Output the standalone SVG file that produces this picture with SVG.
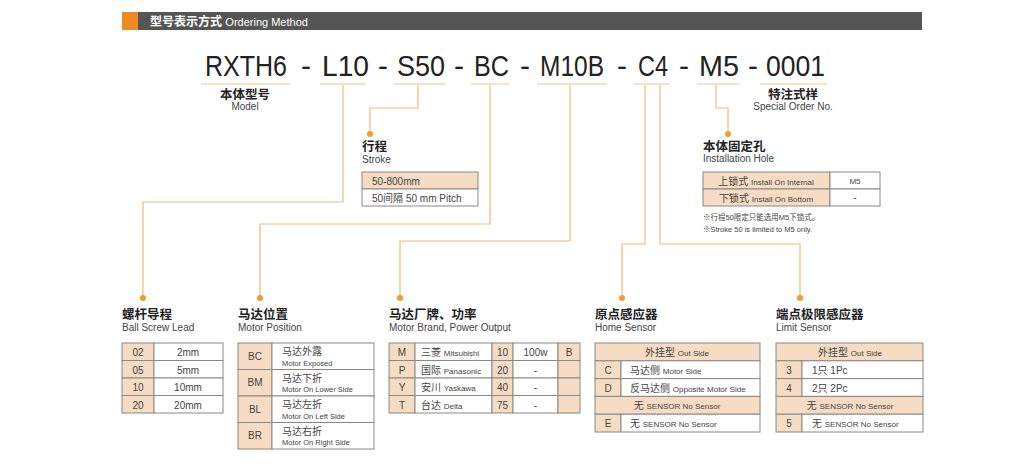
<svg xmlns="http://www.w3.org/2000/svg" width="1024" height="466" viewBox="0 0 1024 466">
<style>
text{font-family:"Liberation Sans","Noto Sans CJK SC",sans-serif;fill:#333}
.code{font-size:30px;fill:#222}
.dash{font-size:30px;fill:#222;text-anchor:middle}
.ul{stroke:#f2c48f;stroke-width:1}
.con{fill:none;stroke:#f2b978;stroke-width:1.2}
.dot{fill:#f39a35}
.t{font-size:12.5px;font-weight:bold;fill:#222}
.s{font-size:10px;fill:#444}
.tan{fill:#f6dcc2;stroke:#888;stroke-width:1}
.wh{fill:#fff;stroke:#888;stroke-width:1}
.c{font-size:10px;text-anchor:middle;fill:#444}
.l{font-size:10px;fill:#444}
.e{font-size:8px}
.n{font-size:7.5px;fill:#444}
</style>
<rect width="1024" height="466" fill="#fff"/>
<g id="header">
<rect x="122" y="12" width="16" height="18" fill="#f08a24"/>
<rect x="138" y="12" width="784" height="18" fill="#555"/>
<text x="150" y="25.5" style="font-size:12px;font-weight:bold;fill:#fff">型号表示方式 <tspan style="font-weight:normal;font-size:11px;fill:#fff">Ordering Method</tspan></text>
</g>
<g id="code">
<text class="code" x="205" y="76" textLength="82" lengthAdjust="spacingAndGlyphs">RXTH6</text>
<text class="dash" x="306" y="76">-</text>
<text class="code" x="322" y="76" textLength="47" lengthAdjust="spacingAndGlyphs">L10</text>
<text class="dash" x="383" y="76">-</text>
<text class="code" x="397" y="76" textLength="48" lengthAdjust="spacingAndGlyphs">S50</text>
<text class="dash" x="459" y="76">-</text>
<text class="code" x="474" y="76" textLength="35" lengthAdjust="spacingAndGlyphs">BC</text>
<text class="dash" x="525" y="76">-</text>
<text class="code" x="540" y="76" textLength="64" lengthAdjust="spacingAndGlyphs">M10B</text>
<text class="dash" x="622" y="76">-</text>
<text class="code" x="638" y="76" textLength="30" lengthAdjust="spacingAndGlyphs">C4</text>
<text class="dash" x="684" y="76">-</text>
<text class="code" x="699" y="76" textLength="40" lengthAdjust="spacingAndGlyphs">M5</text>
<text class="dash" x="753" y="76">-</text>
<text class="code" x="766" y="76" textLength="59" lengthAdjust="spacingAndGlyphs">0001</text>
<line class="ul" x1="201" y1="84" x2="290" y2="84"/>
<line class="ul" x1="320" y1="84" x2="366" y2="84"/>
<line class="ul" x1="394" y1="84" x2="446" y2="84"/>
<line class="ul" x1="471" y1="84" x2="509" y2="84"/>
<line class="ul" x1="537" y1="84" x2="607" y2="84"/>
<line class="ul" x1="634" y1="84" x2="670" y2="84"/>
<line class="ul" x1="697" y1="84" x2="740" y2="84"/>
<line class="ul" x1="760" y1="84" x2="827" y2="84"/>
</g>
<g id="model">
<text class="t" x="245" y="99" text-anchor="middle">本体型号</text>
<text class="s" x="245" y="110" text-anchor="middle">Model</text>
</g>
<g id="special">
<text class="t" x="793" y="99" text-anchor="middle">特注式样</text>
<text class="s" x="793" y="110" text-anchor="middle">Special Order No.</text>
</g>
<g id="connectors">
<polyline class="con" points="343,85 343,202 143,202 143,298"/>
<polyline class="con" points="418,85 418,108 370,108 370,131"/>
<polyline class="con" points="490,85 490,224 260,224 260,298"/>
<polyline class="con" points="570,85 570,241 400,241 400,298"/>
<polyline class="con" points="645,85 645,244 622,244 622,298"/>
<polyline class="con" points="660,85 660,244 800,244 800,298"/>
<polyline class="con" points="716,85 716,108 728,108 728,131"/>
<circle class="dot" cx="143" cy="298" r="3"/>
<circle class="dot" cx="370" cy="134" r="3"/>
<circle class="dot" cx="260" cy="298" r="3"/>
<circle class="dot" cx="400" cy="298" r="3"/>
<circle class="dot" cx="622" cy="298" r="3"/>
<circle class="dot" cx="800" cy="298" r="3"/>
<circle class="dot" cx="728" cy="134" r="3"/>
</g>
<g id="stroke">
<text class="t" x="362" y="151">行程</text>
<text class="s" x="362" y="163">Stroke</text>
<rect class="tan" x="362" y="172" width="116" height="17"/>
<rect class="wh" x="362" y="189" width="116" height="17"/>
<text class="l" x="372" y="184.5">50-800mm</text>
<text class="l" x="372" y="201.5">50间隔 50 mm Pitch</text>
</g>
<g id="hole">
<text class="t" x="703" y="151">本体固定孔</text>
<text class="s" x="703" y="162">Installation Hole</text>
<rect class="tan" x="703" y="172" width="127" height="17"/>
<rect class="tan" x="703" y="189" width="127" height="17"/>
<rect class="wh" x="830" y="172" width="50" height="17"/>
<rect class="wh" x="830" y="189" width="50" height="17"/>
<text class="c" x="766" y="184.5">上锁式 <tspan class="e">Install On Internal</tspan></text>
<text class="c" x="766" y="201.5">下锁式 <tspan class="e">Install On Bottom</tspan></text>
<text class="c e" x="855" y="184">M5</text>
<text class="c" x="855" y="201">-</text>
<text class="n" x="703" y="220">※行程50限定只能选用M5下锁式。</text>
<text class="n" x="703" y="232">※Stroke 50 is limited to M5 only.</text>
</g>
<g id="lead">
<text class="t" x="122" y="319">螺杆导程</text>
<text class="s" x="122" y="331">Ball Screw Lead</text>
<rect class="tan" x="122" y="343" width="32" height="17.5"/><rect class="wh" x="154" y="343" width="69" height="17.5"/>
<rect class="tan" x="122" y="360.5" width="32" height="17.5"/><rect class="wh" x="154" y="360.5" width="69" height="17.5"/>
<rect class="tan" x="122" y="378" width="32" height="17.5"/><rect class="wh" x="154" y="378" width="69" height="17.5"/>
<rect class="tan" x="122" y="395.5" width="32" height="17.5"/><rect class="wh" x="154" y="395.5" width="69" height="17.5"/>
<text class="c" x="138" y="356">02</text><text class="c" x="188" y="356">2mm</text>
<text class="c" x="138" y="373.5">05</text><text class="c" x="188" y="373.5">5mm</text>
<text class="c" x="138" y="391">10</text><text class="c" x="188" y="391">10mm</text>
<text class="c" x="138" y="408.5">20</text><text class="c" x="188" y="408.5">20mm</text>
</g>
<g id="position">
<text class="t" x="238" y="319">马达位置</text>
<text class="s" x="238" y="331">Motor Position</text>
<rect class="tan" x="238" y="343" width="34" height="26.5"/><rect class="wh" x="272" y="343" width="102" height="26.5"/>
<rect class="tan" x="238" y="369.5" width="34" height="26.5"/><rect class="wh" x="272" y="369.5" width="102" height="26.5"/>
<rect class="tan" x="238" y="396" width="34" height="26.5"/><rect class="wh" x="272" y="396" width="102" height="26.5"/>
<rect class="tan" x="238" y="422.5" width="34" height="26.5"/><rect class="wh" x="272" y="422.5" width="102" height="26.5"/>
<text class="c" x="255" y="359.5">BC</text><text class="l" x="282" y="355">马达外露</text><text class="n" x="282" y="365.5">Motor Exposed</text>
<text class="c" x="255" y="386">BM</text><text class="l" x="282" y="381.5">马达下折</text><text class="n" x="282" y="392">Motor On Lower Side</text>
<text class="c" x="255" y="412.5">BL</text><text class="l" x="282" y="408">马达左折</text><text class="n" x="282" y="418.5">Motor On Left Side</text>
<text class="c" x="255" y="439">BR</text><text class="l" x="282" y="434.5">马达右折</text><text class="n" x="282" y="445">Motor On Right Side</text>
</g>
<g id="brand">
<text class="t" x="389" y="319">马达厂牌、功率</text>
<text class="s" x="389" y="331">Motor Brand, Power Output</text>
<g>
<rect class="tan" x="389" y="343" width="26" height="17.5"/><rect class="wh" x="415" y="343" width="77" height="17.5"/><rect class="tan" x="492" y="343" width="21" height="17.5"/><rect class="wh" x="513" y="343" width="45" height="17.5"/><rect class="tan" x="558" y="343" width="22" height="17.5"/>
<rect class="tan" x="389" y="360.5" width="26" height="17.5"/><rect class="wh" x="415" y="360.5" width="77" height="17.5"/><rect class="tan" x="492" y="360.5" width="21" height="17.5"/><rect class="wh" x="513" y="360.5" width="45" height="17.5"/><rect class="tan" x="558" y="360.5" width="22" height="17.5"/>
<rect class="tan" x="389" y="378" width="26" height="17.5"/><rect class="wh" x="415" y="378" width="77" height="17.5"/><rect class="tan" x="492" y="378" width="21" height="17.5"/><rect class="wh" x="513" y="378" width="45" height="17.5"/><rect class="tan" x="558" y="378" width="22" height="17.5"/>
<rect class="tan" x="389" y="395.5" width="26" height="17.5"/><rect class="wh" x="415" y="395.5" width="77" height="17.5"/><rect class="tan" x="492" y="395.5" width="21" height="17.5"/><rect class="wh" x="513" y="395.5" width="45" height="17.5"/><rect class="tan" x="558" y="395.5" width="22" height="17.5"/>
</g>
<text class="c" x="402" y="356">M</text><text class="l" x="421" y="356">三菱 <tspan class="e">Mitsubishi</tspan></text><text class="c" x="502.5" y="356">10</text><text class="c" x="535.5" y="356">100w</text><text class="c" x="569" y="356">B</text>
<text class="c" x="402" y="373.5">P</text><text class="l" x="421" y="373.5">国际 <tspan class="e">Panasonic</tspan></text><text class="c" x="502.5" y="373.5">20</text><text class="c" x="535.5" y="373.5">-</text>
<text class="c" x="402" y="391">Y</text><text class="l" x="421" y="391">安川 <tspan class="e">Yaskawa</tspan></text><text class="c" x="502.5" y="391">40</text><text class="c" x="535.5" y="391">-</text>
<text class="c" x="402" y="408.5">T</text><text class="l" x="421" y="408.5">台达 <tspan class="e">Delta</tspan></text><text class="c" x="502.5" y="408.5">75</text><text class="c" x="535.5" y="408.5">-</text>
</g>
<g id="home">
<text class="t" x="595" y="319">原点感应器</text>
<text class="s" x="595" y="331">Home Sensor</text>
<rect class="tan" x="595" y="343" width="165" height="17.8"/>
<rect class="tan" x="595" y="360.8" width="26" height="17.8"/><rect class="wh" x="621" y="360.8" width="139" height="17.8"/>
<rect class="tan" x="595" y="378.6" width="26" height="17.8"/><rect class="wh" x="621" y="378.6" width="139" height="17.8"/>
<rect class="tan" x="595" y="396.4" width="165" height="17.8"/>
<rect class="tan" x="595" y="414.2" width="26" height="17.8"/><rect class="wh" x="621" y="414.2" width="139" height="17.8"/>
<text class="c" x="677" y="356">外挂型 <tspan class="e">Out Side</tspan></text>
<text class="c" x="608" y="374">C</text><text class="l" x="630" y="374">马达侧 <tspan class="e">Motor Side</tspan></text>
<text class="c" x="608" y="391.5">D</text><text class="l" x="630" y="391.5">反马达侧 <tspan class="e">Opposite Motor Side</tspan></text>
<text class="c" x="677" y="409">无 <tspan class="e">SENSOR  No Sensor</tspan></text>
<text class="c" x="608" y="427">E</text><text class="l" x="630" y="427">无 <tspan class="e">SENSOR  No Sensor</tspan></text>
</g>
<g id="limit">
<text class="t" x="776" y="319">端点极限感应器</text>
<text class="s" x="776" y="331">Limit Sensor</text>
<rect class="tan" x="776" y="343" width="147" height="17.8"/>
<rect class="tan" x="776" y="360.8" width="26" height="17.8"/><rect class="wh" x="802" y="360.8" width="121" height="17.8"/>
<rect class="tan" x="776" y="378.6" width="26" height="17.8"/><rect class="wh" x="802" y="378.6" width="121" height="17.8"/>
<rect class="tan" x="776" y="396.4" width="147" height="17.8"/>
<rect class="tan" x="776" y="414.2" width="26" height="17.8"/><rect class="wh" x="802" y="414.2" width="121" height="17.8"/>
<text class="c" x="850" y="356">外挂型 <tspan class="e">Out Side</tspan></text>
<text class="c" x="789" y="374">3</text><text class="l" x="812" y="374">1只 1Pc</text>
<text class="c" x="789" y="391.5">4</text><text class="l" x="812" y="391.5">2只 2Pc</text>
<text class="c" x="850" y="409">无 <tspan class="e">SENSOR  No Sensor</tspan></text>
<text class="c" x="789" y="427">5</text><text class="l" x="812" y="427">无 <tspan class="e">SENSOR  No Sensor</tspan></text>
</g>
</svg>
